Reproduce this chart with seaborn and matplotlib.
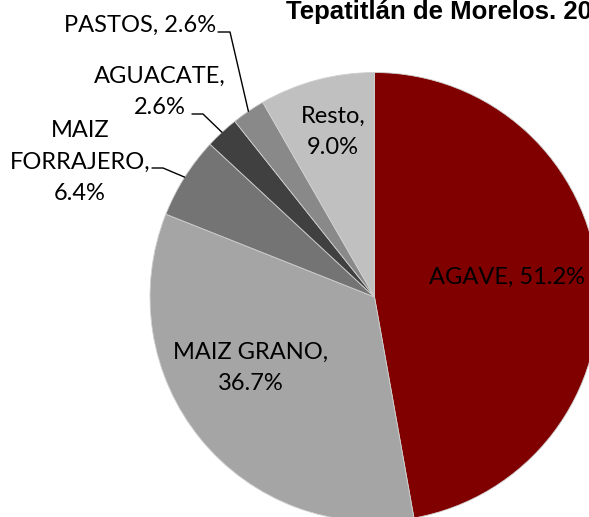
import matplotlib
matplotlib.use("Agg")
import matplotlib.pyplot as plt
import seaborn as sns
import numpy as np

# datos del grafico
cultivos = ["AGAVE", "MAIZ GRANO", "MAIZ FORRAJERO", "AGUACATE", "PASTOS", "Resto"]
porcentaje = [51.2, 36.7, 6.4, 2.6, 2.6, 9.0]
colores = ["#800000", "#A5A5A5", "#747474", "#404040", "#898989", "#C0C0C0"]
etiquetas = ["AGAVE, 51.2%", "MAIZ GRANO,\n36.7%", "MAIZ\nFORRAJERO,\n6.4%",
             "AGUACATE,\n2.6%", "PASTOS, 2.6%", "Resto,\n9.0%"]
titulo = "Tepatitlán de Morelos. 2012"

sns.set_theme(style="white")
plt.rcParams["font.family"] = ["Lato", "DejaVu Sans"]
plt.rcParams["text.color"] = "black"

W, H = 589, 517
fig = plt.figure(figsize=(W / 100, H / 100), dpi=100)
ax = fig.add_axes([0, 0, 1, 1])

cx, cy, r = 374.5, 297, 224.5
wedges, _ = ax.pie(porcentaje, colors=colores, startangle=-90, counterclock=True,
                   center=(cx, cy), radius=r, frame=True,
                   wedgeprops=dict(edgecolor="#d0d0d0", linewidth=0.6))
ax.set_xlim(0, W)
ax.set_ylim(H, 0)  # coordenadas tipo imagen
ax.axis("off")

fs = 17
ls = 1.6
# etiquetas dentro de la rebanada
ax.text(507, 277, etiquetas[0], ha="center", va="center", fontsize=fs)
ax.text(251, 368, etiquetas[1], ha="center", va="center", fontsize=fs, linespacing=ls)
ax.text(333, 132, etiquetas[5], ha="center", va="center", fontsize=fs, linespacing=ls)

# etiquetas fuera con linea guia
fuera = {2: ((80, 162), (152, 168), (163, 168)),
         3: ((160, 92), (192, 114), (203, 114)),
         4: ((140, 25), (218, 32), (230, 32))}
for i, (pos, p0, p1) in fuera.items():
    ax.text(pos[0], pos[1], etiquetas[i], ha="center", va="center", fontsize=fs, linespacing=ls)
    w = wedges[i]
    ang = np.deg2rad((w.theta1 + w.theta2) / 2)
    px, py = cx + r * np.cos(ang), cy + r * np.sin(ang)
    ax.plot([p0[0], p1[0], px], [p0[1], p1[1], py], color="black", lw=1)

ax.text(286, 18.5, titulo, ha="left", va="baseline", fontsize=18.5,
        fontweight="bold", family="Liberation Sans")

fig.savefig("out.png", dpi=100)
